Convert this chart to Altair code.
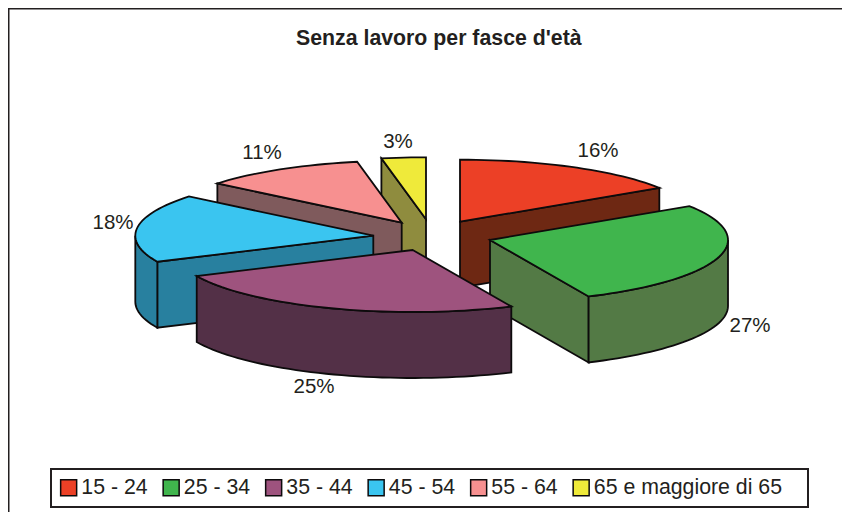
import math
import altair as alt

# ---- chart values ----
categories = ["15 - 24", "25 - 34", "35 - 44", "45 - 54", "55 - 64", "65 e maggiore di 65"]
shares = [15.8, 27.4, 24.9, 17.8, 11.1, 3.0]
title_text = "Senza lavoro per fasce d'età"

# ---- styles ----
top_colors = ["#ec4026", "#40b54d", "#9e537e", "#3ac5f0", "#f79090", "#efea3a"]
side_colors = ["#6e2813", "#537a45", "#533047", "#28809f", "#7f5a5c", "#8f8c3e"]
INK = "#231f20"
EDGE = "#0d0b0c"

# ---- layout: page pixels of the projected 3D pie ----
OX, OY = 8, 8
RX, RY, DEPTH = 238, 62, 66
apex = [(460, 221.7), (490, 240), (412.7, 250), (373.3, 235.7), (401.7, 222.7), (426, 219.3)]
label_at = [(598, 151), (750, 326), (314, 387), (113, 223), (262, 153), (398, 142)]
paint_order = [5, 4, 0, 3, 1, 2]


def pt(i, deg, drop=0):
    a = math.radians(deg)
    return [apex[i][0] + RX * math.sin(a) - OX, apex[i][1] - RY * math.cos(a) + drop - OY]


def arc(i, a0, a1, drop=0):
    n = max(2, int(abs(a1 - a0) / 2) + 1)
    return [pt(i, a0 + (a1 - a0) * k / n, drop) for k in range(n + 1)]


def centre(i, drop=0):
    return [apex[i][0] - OX, apex[i][1] + drop - OY]


def feature(name, ring):
    ring = list(ring) + [ring[0]]
    return {"type": "Feature", "properties": {"name": name},
            "geometry": {"type": "Polygon", "coordinates": [ring]}}


total = sum(shares)
starts = [sum(shares[:i]) / total * 360 for i in range(len(shares))]
ends = [sum(shares[:i + 1]) / total * 360 for i in range(len(shares))]

features = []
for i in paint_order:
    s, e = starts[i], ends[i]
    side = categories[i] + " lato"
    for ang, nrm in ((s, s - 90), (e, e + 90)):
        if math.cos(math.radians(nrm)) < -1e-6:
            features.append(feature(side, [centre(i), pt(i, ang), pt(i, ang, DEPTH), centre(i, DEPTH)]))
    r0, r1 = max(s, 90), min(e, 270)
    if r1 > r0:
        features.append(feature(side, arc(i, r0, r1) + arc(i, r1, r0, DEPTH)))
    features.append(feature(categories[i], [centre(i)] + arc(i, s, e)))

side_names = [c + " lato" for c in categories]
pie = (
    alt.Chart(alt.InlineData(values={"type": "FeatureCollection", "features": features},
                             format=alt.DataFormat(property="features", type="json")))
    .mark_geoshape(stroke=EDGE, strokeWidth=1.8, strokeJoin="miter", opacity=1)
    .encode(
        color=alt.Color(
            "properties.name:N",
            scale=alt.Scale(domain=categories + side_names, range=top_colors + side_colors),
            legend=alt.Legend(
                values=categories, title=None, orient="none", direction="horizontal", columns=6,
                legendX=58 - OX, legendY=479 - OY - 2, padding=0, symbolType="square", symbolSize=256,
                symbolStrokeColor=EDGE, symbolStrokeWidth=1.5, symbolOpacity=1,
                labelFont="Liberation Sans", labelFontSize=21.3, labelColor=INK, labelOffset=2,
                labelLimit=400, columnPadding=11.5, zindex=1,
            ),
        )
    )
)

frame_features = [
    feature("cornice", [[0.5, 0.5], [900, 0.5], [900, 600], [0.5, 600]]),
    feature("legenda", [[51 - OX, 469 - OY], [808 - OX, 469 - OY], [808 - OX, 507 - OY], [51 - OX, 507 - OY]]),
]
frame = (
    alt.Chart(alt.InlineData(values={"type": "FeatureCollection", "features": frame_features},
                             format=alt.DataFormat(property="features", type="json")))
    .mark_geoshape(filled=False, stroke=INK, strokeWidth=2)
)

label_rows = [
    {"lon": label_at[i][0] - OX, "lat": label_at[i][1] - OY, "text": f"{round(shares[i])}%"}
    for i in range(len(shares))
]
labels = (
    alt.Chart(alt.Data(values=label_rows))
    .mark_text(font="Liberation Sans", fontSize=20.5, color=INK, align="center", baseline="middle")
    .encode(longitude="lon:Q", latitude="lat:Q", text="text:N")
)

chart = (
    alt.layer(frame, pie, labels)
    .project(type="identity", scale=1, translate=[0, 0])
    .properties(
        width=834,
        height=504,
        padding=0,
        autosize=alt.AutoSizeParams(type="none"),
        title=alt.TitleParams(
            title_text, anchor="start", orient="top", offset=0, dx=288, dy=58,
            font="Liberation Sans", fontSize=21.3, fontWeight="bold", color=INK, baseline="alphabetic",
        ),
    )
    .configure_view(stroke=None)
)

chart.save("out.html", embed_options={"renderer": "svg", "actions": False})
